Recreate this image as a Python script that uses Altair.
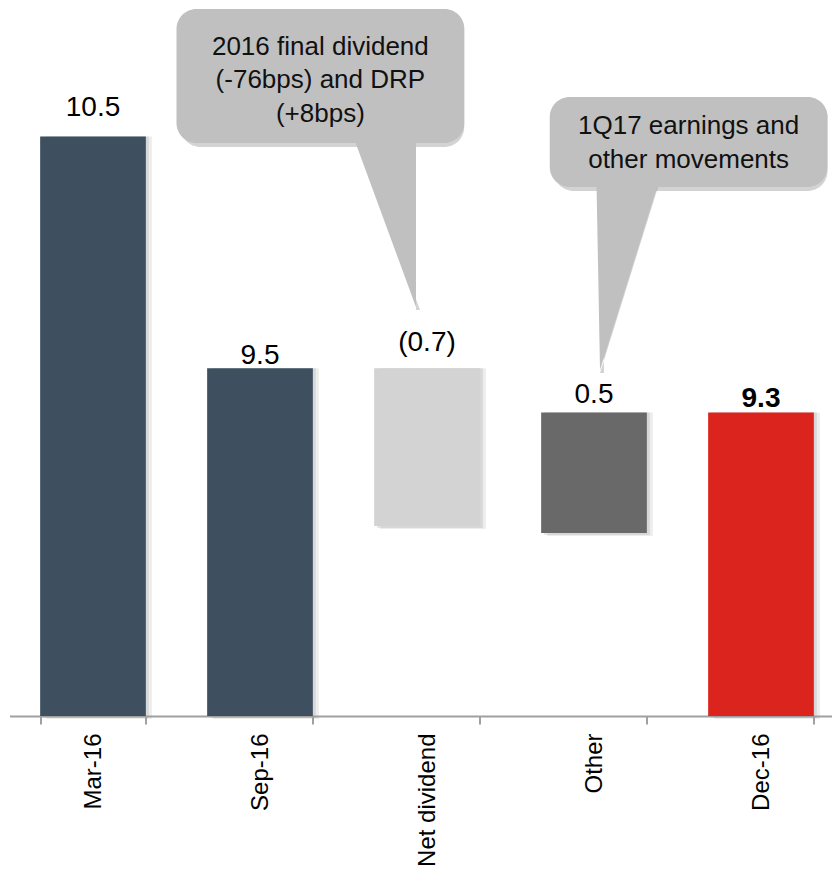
import altair as alt
import pandas as pd

# ---------------- data ----------------
CATEGORIES = ["Mar-16", "Sep-16", "Net dividend", "Other", "Dec-16"]
BAR_LOW = [8.0, 8.0, 8.82, 8.79, 8.0]
BAR_HIGH = [10.5, 9.5, 9.5, 9.31, 9.31]
VALUE_LABELS = ["10.5", "9.5", "(0.7)", "0.5", "9.3"]
KIND = ["total", "total", "down", "up", "final"]

CALLOUT_TEXT = ["2016 final dividend\n(-76bps) and DRP\n(+8bps)",
                "1Q17 earnings and\nother movements"]
# callout boxes in (category-slot, value) units
CALLOUT_X0 = [1.0, 3.235]
CALLOUT_X1 = [2.723, 4.898]
CALLOUT_Y0 = [10.472, 10.283]
CALLOUT_Y1 = [11.051, 10.671]
POINTER_BASE_L = [2.006, 3.512]
POINTER_BASE_R = [2.434, 3.934]
POINTER_TIP_X = [2.434, 3.536]
POINTER_TIP_Y = [9.765, 9.493]

# ---------------- styles ----------------
LABEL_LIFT = [21, 4, 17, 9, 5]
TEXT_SHIFT = [4, 1]
KIND_DOMAIN = ["total", "down", "up", "final"]
KIND_COLORS = ["#3e5060", "#d3d3d3", "#696969", "#dc241f"]
FONT = "Liberation Sans"
W, H = 835, 708
Y_DOMAIN = [8.0, 11.055]
LINE_H = 33.5

bars_df = pd.DataFrame({"cat": CATEGORIES, "low": BAR_LOW, "high": BAR_HIGH,
                        "label": VALUE_LABELS, "kind": KIND})

box_df = pd.DataFrame({"id": list(range(len(CALLOUT_TEXT))), "x0": CALLOUT_X0, "x1": CALLOUT_X1,
                       "y0": CALLOUT_Y0, "y1": CALLOUT_Y1, "text": CALLOUT_TEXT})
box_df["cx"] = (box_df["x0"] + box_df["x1"]) / 2
box_df["cy"] = (box_df["y0"] + box_df["y1"]) / 2

tri_rows = []
for i in range(len(CALLOUT_TEXT)):
    yb = CALLOUT_Y0[i]
    yt = POINTER_TIP_Y[i]
    ext = 0.06
    fl = (POINTER_TIP_X[i] - POINTER_BASE_L[i]) / (yt - yb)
    fr = (POINTER_TIP_X[i] - POINTER_BASE_R[i]) / (yt - yb)
    tri_rows.append({"id": i, "y": yb + ext, "xa": POINTER_BASE_L[i] - fl * ext,
                     "xb": POINTER_BASE_R[i] - fr * ext})
    tri_rows.append({"id": i, "y": yt, "xa": POINTER_TIP_X[i], "xb": POINTER_TIP_X[i]})
tri_df = pd.DataFrame(tri_rows)


def yscale():
    return alt.Scale(domain=Y_DOMAIN, nice=False, zero=False)


def xband():
    return alt.Scale(domain=CATEGORIES, paddingInner=0.367, paddingOuter=0.1835)


def xslot():
    return alt.Scale(domain=[0, 5], nice=False, zero=False)


x_axis = alt.Axis(title=None, labelAngle=270, labelAlign="right", labelBaseline="middle",
                  labelPadding=9, labelFontSize=24, labelColor="#000000", labelFont=FONT,
                  domainColor="#a0a0a0", domainWidth=2, tickColor="#a0a0a0", tickWidth=2,
                  tickSize=8, tickBand="extent", grid=False)

base = alt.Chart(bars_df)

shadow2 = base.mark_bar(color="#9a9a9a", opacity=0.18, xOffset=6, yOffset=3).encode(
    x=alt.X("cat:N", scale=xband(), sort=CATEGORIES, axis=None),
    y=alt.Y("low:Q", scale=yscale(), axis=None), y2="high:Q")
shadow1 = base.mark_bar(color="#9a9a9a", opacity=0.25, xOffset=3, yOffset=2).encode(
    x=alt.X("cat:N", scale=xband(), sort=CATEGORIES, axis=None),
    y=alt.Y("low:Q", scale=yscale(), axis=None), y2="high:Q")

bars = base.mark_bar().encode(
    x=alt.X("cat:N", scale=xband(), sort=CATEGORIES, axis=x_axis),
    y=alt.Y("low:Q", scale=yscale(), axis=None),
    y2="high:Q",
    color=alt.Color("kind:N", scale=alt.Scale(domain=KIND_DOMAIN, range=KIND_COLORS), legend=None),
)

text_layers = []
for i, c in enumerate(CATEGORIES):
    text_layers.append(
        base.transform_filter(alt.datum.cat == c).mark_text(
            dy=-LABEL_LIFT[i], baseline="alphabetic", fontSize=28, font=FONT,
            color="#000000", fontWeight="bold" if KIND[i] == "final" else "normal"
        ).encode(
            x=alt.X("cat:N", scale=xband(), sort=CATEGORIES, axis=None),
            y=alt.Y("high:Q", scale=yscale(), axis=None),
            text="label:N",
        )
    )

CALLOUT_FILL = "#c0c0c0"

box_shadow = alt.Chart(box_df).mark_rect(cornerRadius=20, color="#808080", opacity=0.35,
                                         xOffset=4, yOffset=4).encode(
    x=alt.X("x0:Q", scale=xslot(), axis=None), x2="x1:Q",
    y=alt.Y("y0:Q", scale=yscale(), axis=None), y2="y1:Q")
tri_shadow = alt.Chart(tri_df).mark_area(orient="horizontal", color="#808080", opacity=0.35,
                                         xOffset=4, yOffset=3).encode(
    y=alt.Y("y:Q", scale=yscale(), axis=None),
    x=alt.X("xa:Q", scale=xslot(), axis=None, stack=None),
    x2="xb:Q", detail="id:N")
tri = alt.Chart(tri_df).mark_area(orient="horizontal", color=CALLOUT_FILL, opacity=1).encode(
    y=alt.Y("y:Q", scale=yscale(), axis=None),
    x=alt.X("xa:Q", scale=xslot(), axis=None, stack=None),
    x2="xb:Q", detail="id:N")
box = alt.Chart(box_df).mark_rect(cornerRadius=20, color=CALLOUT_FILL).encode(
    x=alt.X("x0:Q", scale=xslot(), axis=None), x2="x1:Q",
    y=alt.Y("y0:Q", scale=yscale(), axis=None), y2="y1:Q")

box_texts = []
for i, t in enumerate(CALLOUT_TEXT):
    n_lines = t.count("\n") + 1
    box_texts.append(
        alt.Chart(box_df).transform_filter(alt.datum.id == i).mark_text(
            lineBreak="\n", lineHeight=LINE_H, baseline="middle", align="center",
            fontSize=26, font=FONT, color="#111111",
            dy=-(n_lines - 1) * LINE_H / 2 + TEXT_SHIFT[i]
        ).encode(
            x=alt.X("cx:Q", scale=xslot(), axis=None),
            y=alt.Y("cy:Q", scale=yscale(), axis=None),
            text="text:N")
    )

chart = alt.layer(
    shadow2, shadow1, bars, *text_layers, box_shadow, tri_shadow, tri, box, *box_texts
).resolve_scale(x="independent").properties(
    width=W, height=H,
    padding={"left": 1.5, "top": 0, "right": -12.5, "bottom": 150},
    autosize=alt.AutoSizeParams(type="none"),
    background="#ffffff"
).configure(font=FONT).configure_view(stroke="transparent", strokeWidth=0)

chart.save("out.html", embed_options={"renderer": "svg", "actions": False})
